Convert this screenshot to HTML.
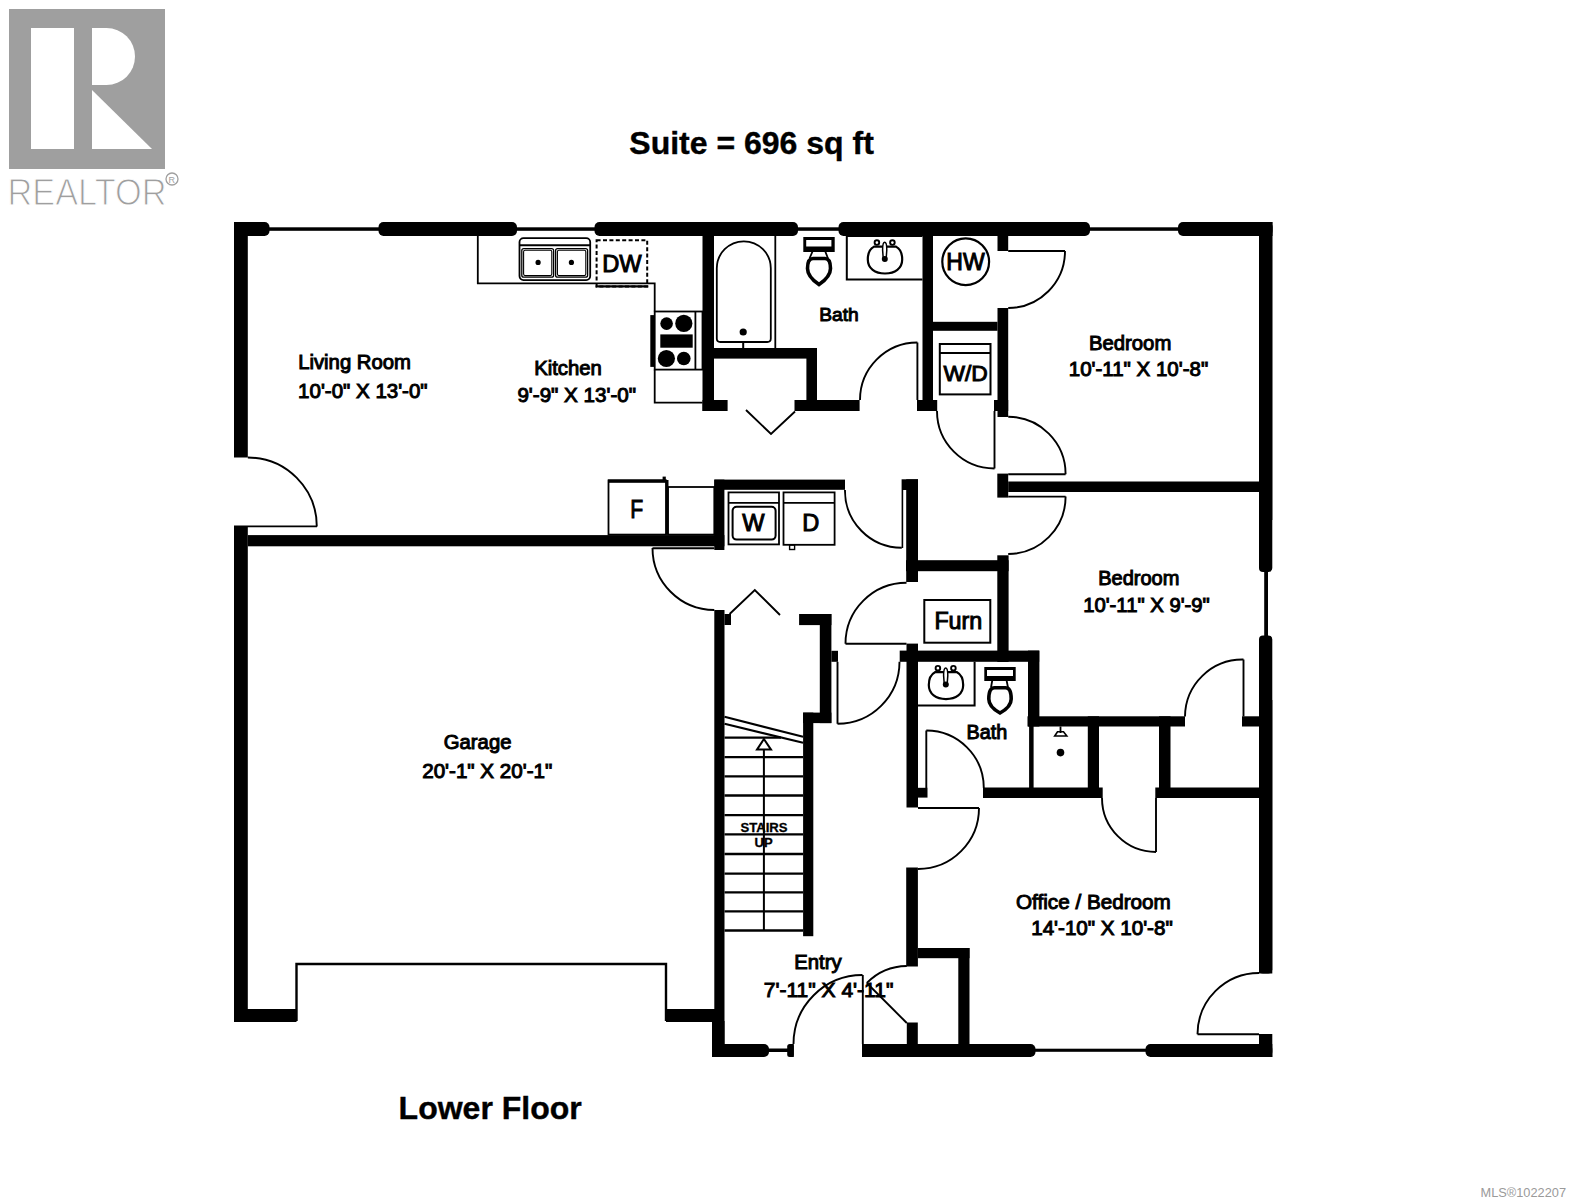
<!DOCTYPE html>
<html><head><meta charset="utf-8"><style>
html,body{margin:0;padding:0;background:#fff;width:1572px;height:1200px;overflow:hidden}
svg{display:block}
text{font-family:"Liberation Sans",sans-serif}
</style></head><body>
<svg width="1572" height="1200" viewBox="0 0 1572 1200">
<rect width="1572" height="1200" fill="#fff"/>
<rect x="9" y="9" width="156" height="160" fill="#9f9f9f"/>
<rect x="31" y="28" width="43" height="121" fill="#fff"/>
<path d="M92,28 H106.5 A28.5,28.5 0 0 1 106.5,85 H92 Z" fill="#fff"/>
<path d="M92,90 L152,149 H92 Z" fill="#fff"/>
<text x="7.5" y="204.5" font-size="36" fill="#9f9f9f" textLength="159" lengthAdjust="spacingAndGlyphs" stroke="#fff" stroke-width="1.1">REALTOR</text>
<circle cx="172" cy="179" r="6" fill="none" stroke="#9f9f9f" stroke-width="1.3"/>
<text x="168.6" y="182.6" font-size="9" fill="#9f9f9f">R</text>
<text x="629.3" y="154.2" font-size="32" font-weight="bold" fill="#000" stroke="#000" stroke-width="0.4" >Suite = 696 sq ft</text>
<text x="398.6" y="1118.9" font-size="32" font-weight="bold" fill="#000" stroke="#000" stroke-width="0.4" >Lower Floor</text>
<rect x="234" y="222" width="35.5" height="14" rx="5" fill="#000"/>
<rect x="234" y="222" width="16" height="14" fill="#000"/>
<rect x="378.5" y="222" width="138.5" height="14" rx="5" fill="#000"/>
<rect x="594.5" y="222" width="203.5" height="14" rx="5" fill="#000"/>
<rect x="838.5" y="222" width="251.5" height="14" rx="5" fill="#000"/>
<rect x="1178" y="222" width="94.5" height="14" rx="5" fill="#000"/>
<rect x="1250" y="222" width="22.5" height="14" fill="#000"/>
<rect x="265" y="227.3" width="117" height="3.5" fill="#000"/>
<rect x="513" y="227.3" width="85" height="3.5" fill="#000"/>
<rect x="794" y="227.3" width="48" height="3.5" fill="#000"/>
<rect x="1086" y="227.3" width="96" height="3.5" fill="#000"/>
<rect x="234" y="222" width="13.8" height="235.5" fill="#000"/>
<rect x="234" y="526" width="13.8" height="496" fill="#000"/>
<rect x="234" y="1009" width="62.5" height="13" fill="#000"/>
<rect x="666" y="1009" width="58" height="13" fill="#000"/>
<path d="M296.5,1021 V964 H666 V1021" stroke="#000" stroke-width="2.4" fill="none" />
<rect x="247.8" y="535.1" width="476.6" height="11.2" fill="#000"/>
<rect x="714.3" y="610" width="10.2" height="447" fill="#000"/>
<rect x="724.5" y="614" width="6.5" height="11" fill="#000"/>
<rect x="712" y="1021" width="12.5" height="36" fill="#000"/>
<rect x="712" y="1044" width="57" height="13" rx="5" fill="#000"/>
<rect x="712" y="1044" width="28" height="13" fill="#000"/>
<rect x="765" y="1048.5" width="25" height="3.5" fill="#000"/>
<rect x="787.2" y="1044" width="6.6" height="13" rx="2.5" fill="#000"/>
<rect x="791" y="1044" width="2.8" height="13" fill="#000"/>
<rect x="862" y="1044" width="173.5" height="13" rx="5" fill="#000"/>
<rect x="862" y="1044" width="38" height="13" fill="#000"/>
<rect x="1031" y="1048.7" width="119" height="3.1" fill="#000"/>
<rect x="1145.5" y="1044" width="126.8" height="13" rx="5" fill="#000"/>
<rect x="1200" y="1044" width="72.3" height="13" fill="#000"/>
<rect x="1259" y="222" width="13.3" height="350" rx="4" fill="#000"/>
<rect x="1259" y="222" width="13.3" height="298" fill="#000"/>
<rect x="1264.2" y="568" width="3.8" height="72" fill="#000"/>
<rect x="1259" y="635.5" width="13.3" height="338.0" rx="4" fill="#000"/>
<rect x="1259" y="700" width="13.3" height="273.5" fill="#000"/>
<rect x="1259" y="1034" width="13.3" height="23" fill="#000"/>
<rect x="702.5" y="236" width="11.5" height="175" fill="#000"/>
<rect x="702.5" y="400" width="25.1" height="11" fill="#000"/>
<rect x="714" y="348" width="103" height="10.6" fill="#000"/>
<rect x="806.4" y="348" width="10.6" height="63" fill="#000"/>
<rect x="794.5" y="400" width="65.1" height="11" fill="#000"/>
<rect x="922.5" y="236" width="10.5" height="175" fill="#000"/>
<rect x="917" y="400" width="20.2" height="11" fill="#000"/>
<rect x="997.5" y="236" width="10.7" height="15" fill="#000"/>
<rect x="997.5" y="308" width="10.7" height="109" fill="#000"/>
<rect x="933" y="321.8" width="64.5" height="9.0" fill="#000"/>
<rect x="994" y="400" width="14.2" height="11" fill="#000"/>
<rect x="997.3" y="473.6" width="10.9" height="24.0" fill="#000"/>
<rect x="1008.2" y="481.5" width="251.8" height="10.5" fill="#000"/>
<rect x="714.3" y="479.6" width="130.7" height="10.2" fill="#000"/>
<rect x="714.3" y="479.6" width="10.1" height="70.4" fill="#000"/>
<rect x="901.6" y="479.3" width="16.4" height="10.7" fill="#000"/>
<rect x="906.2" y="479.3" width="11.8" height="102.7" fill="#000"/>
<rect x="901.6" y="490" width="1.6" height="58" fill="#000"/>
<rect x="906" y="560.2" width="102.6" height="11.0" fill="#000"/>
<rect x="997.3" y="555.3" width="11.3" height="106.7" fill="#000"/>
<rect x="899.7" y="650.6" width="139.5" height="11.2" fill="#000"/>
<rect x="906.5" y="643.6" width="11.5" height="163.9" fill="#000"/>
<rect x="1028" y="650.6" width="11.4" height="75.9" fill="#000"/>
<rect x="1027.5" y="716.3" width="157.5" height="10.2" fill="#000"/>
<rect x="1242" y="716.3" width="18" height="10.2" fill="#000"/>
<rect x="1087.8" y="716.3" width="11.2" height="81.7" fill="#000"/>
<rect x="1159" y="716.3" width="11.5" height="81.7" fill="#000"/>
<rect x="983" y="787.5" width="119.7" height="10.5" fill="#000"/>
<rect x="1155.3" y="787.5" width="104.7" height="10.5" fill="#000"/>
<rect x="918" y="787.8" width="9.5" height="9.8" fill="#000"/>
<rect x="1029.1" y="726" width="4.5" height="62" fill="#000"/>
<rect x="906.2" y="867.5" width="11.7" height="99.0" fill="#000"/>
<rect x="917.9" y="948" width="51.6" height="10.2" fill="#000"/>
<rect x="958.3" y="948" width="11.2" height="102" fill="#000"/>
<rect x="906.8" y="1022.5" width="11.0" height="27.5" fill="#000"/>
<rect x="799.1" y="614" width="32.3" height="11.1" fill="#000"/>
<rect x="819.8" y="614" width="11.6" height="109.1" fill="#000"/>
<rect x="803.1" y="712.6" width="28.3" height="10.5" fill="#000"/>
<rect x="803.1" y="712.6" width="10.2" height="223.6" fill="#000"/>
<rect x="831.4" y="650.8" width="6.6" height="11.0" fill="#000"/>
<path d="M247.8,457.5 A69,69 0 0 1 316.8,526.4" stroke="#000" stroke-width="1.9" fill="none" />
<line x1="234" y1="526.4" x2="317" y2="526.4" stroke="#000" stroke-width="1.9"/>
<path d="M917.4,342.5 A57.5,57.5 0 0 0 860,400" stroke="#000" stroke-width="1.9" fill="none" />
<line x1="917.4" y1="342.5" x2="917.4" y2="400" stroke="#000" stroke-width="1.9"/>
<line x1="1008.2" y1="251" x2="1065" y2="251" stroke="#000" stroke-width="1.9"/>
<path d="M1065,251 A57,57 0 0 1 1008.2,308" stroke="#000" stroke-width="1.9" fill="none" />
<path d="M937,411 A57.5,57.5 0 0 0 994.5,468.5" stroke="#000" stroke-width="1.9" fill="none" />
<line x1="994.5" y1="411" x2="994.5" y2="468.5" stroke="#000" stroke-width="1.9"/>
<path d="M1008.2,416.8 A57.4,57.4 0 0 1 1065.6,474.2" stroke="#000" stroke-width="1.9" fill="none" />
<line x1="1008.2" y1="474.2" x2="1065.6" y2="474.2" stroke="#000" stroke-width="1.9"/>
<line x1="1008.2" y1="496.6" x2="1065.6" y2="496.6" stroke="#000" stroke-width="1.9"/>
<path d="M1065.6,496.6 A57.4,57.4 0 0 1 1008.2,554" stroke="#000" stroke-width="1.9" fill="none" />
<path d="M845,490 A57,57 0 0 0 901.8,547.8" stroke="#000" stroke-width="1.9" fill="none" />
<path d="M652.5,548 A62,62 0 0 0 714.3,610" stroke="#000" stroke-width="1.9" fill="none" />
<line x1="652.5" y1="548.3" x2="714.3" y2="548.3" stroke="#000" stroke-width="1.9"/>
<line x1="845.5" y1="643.8" x2="906.5" y2="643.8" stroke="#000" stroke-width="1.9"/>
<path d="M845.5,643.8 A61,61 0 0 1 906.5,582.8" stroke="#000" stroke-width="1.9" fill="none" />
<line x1="837.5" y1="661.8" x2="837.5" y2="723.8" stroke="#000" stroke-width="1.9"/>
<path d="M837.5,723.8 A62,62 0 0 0 899.5,661.8" stroke="#000" stroke-width="1.9" fill="none" />
<line x1="926.3" y1="730.5" x2="926.3" y2="788" stroke="#000" stroke-width="1.9"/>
<path d="M926.3,730.5 A57.5,57.5 0 0 1 983.8,788" stroke="#000" stroke-width="1.9" fill="none" />
<line x1="918" y1="808" x2="979" y2="808" stroke="#000" stroke-width="1.9"/>
<path d="M979,808 A61,61 0 0 1 918,869" stroke="#000" stroke-width="1.9" fill="none" />
<path d="M1102,798 A54,54 0 0 0 1156,852" stroke="#000" stroke-width="1.9" fill="none" />
<line x1="1156" y1="798" x2="1156" y2="852" stroke="#000" stroke-width="1.9"/>
<path d="M1185,716.5 A57.5,57.5 0 0 1 1243.5,659.5" stroke="#000" stroke-width="1.9" fill="none" />
<line x1="1243.5" y1="659.5" x2="1243.5" y2="716.5" stroke="#000" stroke-width="1.9"/>
<line x1="1197.5" y1="1034.3" x2="1259" y2="1034.3" stroke="#000" stroke-width="1.9"/>
<path d="M1197.5,1034.3 A61.5,61.5 0 0 1 1259,973" stroke="#000" stroke-width="1.9" fill="none" />
<path d="M793.5,1044 A69,69 0 0 1 862.5,975" stroke="#000" stroke-width="1.9" fill="none" />
<line x1="862.8" y1="975" x2="862.8" y2="1044" stroke="#000" stroke-width="1.9"/>
<line x1="906.8" y1="1023" x2="866.8" y2="983" stroke="#000" stroke-width="1.9"/>
<path d="M866.8,983 A57,57 0 0 1 906.8,966" stroke="#000" stroke-width="1.9" fill="none" />
<path d="M746,410 L771,434 L795,411.5" stroke="#000" stroke-width="1.9" fill="none" />
<path d="M729.6,614 L754.8,590 L780,615" stroke="#000" stroke-width="1.9" fill="none" />
<path d="M477.8,236 V283.4 H654.7 V311.5" stroke="#000" stroke-width="1.8" fill="none" />
<path d="M654.7,369.6 V402.6 H702.5" stroke="#000" stroke-width="1.8" fill="none" />
<rect x="519.5" y="238.1" width="70.7" height="42.0" rx="4" fill="none" stroke="#000" stroke-width="1.8" />
<line x1="520" y1="245.3" x2="590" y2="245.3" stroke="#000" stroke-width="2"/>
<rect x="521.8" y="248.6" width="31.8" height="28.6" rx="2" fill="none" stroke="#000" stroke-width="1.3" />
<rect x="523.6" y="250.2" width="28.2" height="25.4" rx="1.5" fill="none" stroke="#000" stroke-width="1.1" />
<rect x="555.6" y="248.6" width="32.0" height="28.6" rx="2" fill="none" stroke="#000" stroke-width="1.3" />
<rect x="557.4" y="250.2" width="28.4" height="25.4" rx="1.5" fill="none" stroke="#000" stroke-width="1.1" />
<circle cx="538.1" cy="262.4" r="2.6" fill="#000"/>
<circle cx="571.4" cy="262.4" r="2.6" fill="#000"/>
<rect x="596.6" y="240.2" width="50.6" height="46.4" fill="none" stroke="#000" stroke-width="2" stroke-dasharray="4,2.4"/>
<line x1="595.6" y1="286.3" x2="648.2" y2="286.3" stroke="#000" stroke-width="2.2"/>
<text x="602.2" y="271.5" font-size="23.7" fill="#000" stroke="#000" stroke-width="1.0" >DW</text>
<rect x="654.7" y="311.5" width="47.8" height="58.1" fill="none" stroke="#000" stroke-width="1.8" />
<line x1="695.4" y1="311.5" x2="695.4" y2="369.6" stroke="#000" stroke-width="1.8"/>
<rect x="650.3" y="315.1" width="4.4" height="51.8" fill="#000"/>
<circle cx="666.6" cy="323.6" r="6.3" fill="#000"/>
<circle cx="683.8" cy="323.4" r="8.6" fill="#000"/>
<rect x="660.3" y="334.4" width="32.4" height="13.3" fill="#000"/>
<circle cx="666.4" cy="358.5" r="8.6" fill="#000"/>
<circle cx="683.8" cy="358.5" r="6.8" fill="#000"/>
<rect x="608.5" y="480.4" width="57.5" height="54.2" fill="none" stroke="#000" stroke-width="1.8" />
<rect x="608" y="479.5" width="58" height="3.3" fill="#000"/>
<rect x="662.6" y="476.6" width="3.2" height="4.4" fill="#000"/>
<line x1="667.2" y1="480" x2="667.2" y2="534.6" stroke="#000" stroke-width="2.6"/>
<rect x="668" y="487" width="46.3" height="47.6" fill="none" stroke="#000" stroke-width="1.8" />
<text x="0" y="0" font-size="26.5" fill="#000" stroke="#000" stroke-width="1.0" transform="translate(630.2,518) scale(0.8,1)">F</text>
<line x1="775.3" y1="236" x2="775.3" y2="348" stroke="#000" stroke-width="1.8"/>
<path d="M716.8,338.5 V268.3 A27,27 0 0 1 770.8,268.3 V338.5 Q770.8,342 767.3,342 H720.3 Q716.8,342 716.8,338.5 Z" stroke="#000" stroke-width="1.8" fill="none" />
<circle cx="743.2" cy="332" r="3.6" fill="#000"/>
<line x1="743.2" y1="342" x2="743.2" y2="348" stroke="#000" stroke-width="2"/>
<path d="M803.3,237 H834.7 V252 H803.3 Z M806.2,240 V246.5 H831.4 V240 Z" fill="#000" fill-rule="evenodd"/>
<path d="M812.5,251.5 L809.5,258.5 M825.3,251.5 L828,258.5" stroke="#000" stroke-width="1.8" fill="none" />
<path d="M813,258.5 H825 C829.2,258.5 830.5,263 830.5,268.5 C830.5,275 825,280.5 819,284.6 C813,280.5 807.5,275 807.5,268.5 C807.5,263 808.8,258.5 813,258.5 Z" stroke="#000" stroke-width="3.6" fill="none" />
<path d="M922.5,236 H846.8 V279.6 H922.5" stroke="#000" stroke-width="2" fill="none" />
<g transform="translate(0,0)">
<path d="M874,246.6 H896 C900.5,249 902.2,254 902.2,259.5 C902.2,268.5 895,273.5 885,273.5 C875,273.5 867.8,268.5 867.8,259.5 C867.8,254 869.5,249 874,246.6 Z" stroke="#000" stroke-width="2.2" fill="none" />
<circle cx="876.9" cy="242.6" r="2.3" fill="#fff" stroke="#000" stroke-width="1.9"/>
<circle cx="892.4" cy="242.6" r="2.3" fill="#fff" stroke="#000" stroke-width="1.9"/>
<path d="M884.7,242.3 C886.3,242.3 886.8,245 886.8,250 L886.2,258 H883.2 L882.6,250 C882.6,245 883.1,242.3 884.7,242.3 Z" stroke="#000" stroke-width="1.5" fill="#fff" />
<circle cx="884.8" cy="259" r="3" fill="#000"/>
</g>
<circle cx="965.7" cy="261.8" r="23.4" fill="none" stroke="#000" stroke-width="2.2"/>
<text x="946.3" y="269.5" font-size="23" fill="#000" stroke="#000" stroke-width="1.0" >HW</text>
<rect x="939.8" y="344" width="50.7" height="50.4" fill="none" stroke="#000" stroke-width="2" />
<line x1="940" y1="353" x2="990.5" y2="353" stroke="#000" stroke-width="1.8"/>
<text x="943.5" y="380.6" font-size="22.8" fill="#000" stroke="#000" stroke-width="1.0" >W/D</text>
<rect x="728.5" y="492.4" width="50.5" height="52.0" fill="none" stroke="#000" stroke-width="1.8" />
<line x1="728.5" y1="502.9" x2="779" y2="502.9" stroke="#000" stroke-width="1.8"/>
<rect x="732.6" y="506.8" width="43.0" height="32.8" rx="4" fill="none" stroke="#000" stroke-width="2" />
<text x="742.3" y="531.2" font-size="23.6" fill="#000" stroke="#000" stroke-width="1.0" >W</text>
<rect x="783.5" y="492.4" width="51.1" height="52.4" fill="none" stroke="#000" stroke-width="1.8" />
<line x1="783.5" y1="502.9" x2="834.6" y2="502.9" stroke="#000" stroke-width="1.8"/>
<text x="802.2" y="531.2" font-size="23.6" fill="#000" stroke="#000" stroke-width="1.0" >D</text>
<rect x="789.6" y="545" width="5.0" height="4.5" fill="none" stroke="#000" stroke-width="1.4" />
<rect x="924.3" y="600" width="66.0" height="42.7" fill="none" stroke="#000" stroke-width="2" />
<text x="934.4" y="629.4" font-size="23.3" fill="#000" stroke="#000" stroke-width="1.0" >Furn</text>
<path d="M918,705.6 H974.6 V661.8" stroke="#000" stroke-width="2" fill="none" />
<g transform="translate(61,425.6)">
<path d="M874,246.6 H896 C900.5,249 902.2,254 902.2,259.5 C902.2,268.5 895,273.5 885,273.5 C875,273.5 867.8,268.5 867.8,259.5 C867.8,254 869.5,249 874,246.6 Z" stroke="#000" stroke-width="2.2" fill="none" />
<circle cx="876.9" cy="242.6" r="2.3" fill="#fff" stroke="#000" stroke-width="1.9"/>
<circle cx="892.4" cy="242.6" r="2.3" fill="#fff" stroke="#000" stroke-width="1.9"/>
<path d="M884.7,242.3 C886.3,242.3 886.8,245 886.8,250 L886.2,258 H883.2 L882.6,250 C882.6,245 883.1,242.3 884.7,242.3 Z" stroke="#000" stroke-width="1.5" fill="#fff" />
<circle cx="884.8" cy="259" r="3" fill="#000"/>
</g>
<path d="M984.3,667 H1015.7 V681 H984.3 Z M987,670 V676 H1013 V670 Z" fill="#000" fill-rule="evenodd"/>
<path d="M992.5,679 L991,687.5 M1006.3,679 L1008,687.5" stroke="#000" stroke-width="1.8" fill="none" />
<path d="M994.5,687.8 H1005.5 C1010,687.8 1011.2,692 1011.2,699 C1011.2,705 1005.5,710 1000,713 C994.5,710 988.8,705 988.8,699 C988.8,692 990,687.8 994.5,687.8 Z" stroke="#000" stroke-width="3.6" fill="none" />
<path d="M1060.5,726.5 V733" stroke="#000" stroke-width="1.8" fill="none" />
<path d="M1054.7,736 L1057.5,731.8 H1063.5 L1066.8,736 Z" fill="none" stroke="#000" stroke-width="1.6"/>
<circle cx="1060.5" cy="752.6" r="3.8" fill="#000"/>
<line x1="724.5" y1="716.8" x2="803.1" y2="736.8" stroke="#000" stroke-width="2.2"/>
<line x1="724.5" y1="723.8" x2="803.1" y2="742.8" stroke="#000" stroke-width="2.2"/>
<line x1="724.5" y1="737.6" x2="781" y2="737.6" stroke="#000" stroke-width="2.3"/>
<line x1="724.5" y1="757.2" x2="803.1" y2="757.2" stroke="#000" stroke-width="2.3"/>
<line x1="724.5" y1="776.3" x2="803.1" y2="776.3" stroke="#000" stroke-width="2.3"/>
<line x1="724.5" y1="795.5" x2="803.1" y2="795.5" stroke="#000" stroke-width="2.3"/>
<line x1="724.5" y1="815.2" x2="803.1" y2="815.2" stroke="#000" stroke-width="2.3"/>
<line x1="724.5" y1="834.4" x2="803.1" y2="834.4" stroke="#000" stroke-width="2.3"/>
<line x1="724.5" y1="854" x2="803.1" y2="854" stroke="#000" stroke-width="2.3"/>
<line x1="724.5" y1="873.6" x2="803.1" y2="873.6" stroke="#000" stroke-width="2.3"/>
<line x1="724.5" y1="892.3" x2="803.1" y2="892.3" stroke="#000" stroke-width="2.3"/>
<line x1="724.5" y1="911.4" x2="803.1" y2="911.4" stroke="#000" stroke-width="2.3"/>
<line x1="724.5" y1="930.5" x2="803.1" y2="930.5" stroke="#000" stroke-width="2.3"/>
<line x1="763.9" y1="741" x2="763.9" y2="930.5" stroke="#000" stroke-width="2"/>
<path d="M763.9,739 L757,749.6 H771 Z" fill="#fff" stroke="#000" stroke-width="2"/>
<text x="740.5" y="831.5" font-size="13.1" font-weight="bold" fill="#000" stroke="#000" stroke-width="0.3" >STAIRS</text>
<text x="754.6" y="847.3" font-size="13" font-weight="bold" fill="#000" stroke="#000" stroke-width="0.3" >UP</text>
<text x="298.2" y="368.9" font-size="20.3" fill="#000" stroke="#000" stroke-width="1.0" >Living Room</text>
<text x="298.1" y="397.5" font-size="20.5" fill="#000" stroke="#000" stroke-width="1.0" >10'-0&quot; X 13'-0&quot;</text>
<text x="534.2" y="375.1" font-size="20.3" fill="#000" stroke="#000" stroke-width="1.0" >Kitchen</text>
<text x="517.4" y="401.7" font-size="20.6" fill="#000" stroke="#000" stroke-width="1.0" >9'-9&quot; X 13'-0&quot;</text>
<text x="819.2" y="321.4" font-size="19.2" fill="#000" stroke="#000" stroke-width="1.0" >Bath</text>
<text x="1089" y="349.5" font-size="20.3" fill="#000" stroke="#000" stroke-width="1.0" >Bedroom</text>
<text x="1068.8" y="376.3" font-size="20.5" fill="#000" stroke="#000" stroke-width="1.0" >10'-11&quot; X 10'-8&quot;</text>
<text x="1098.2" y="585.2" font-size="20" fill="#000" stroke="#000" stroke-width="1.0" >Bedroom</text>
<text x="1083.2" y="611.5" font-size="20.3" fill="#000" stroke="#000" stroke-width="1.0" >10'-11&quot; X 9'-9&quot;</text>
<text x="966.6" y="739.4" font-size="19.8" fill="#000" stroke="#000" stroke-width="1.0" >Bath</text>
<text x="443.8" y="748.6" font-size="20.3" fill="#000" stroke="#000" stroke-width="1.0" >Garage</text>
<text x="422.2" y="777.9" font-size="20.6" fill="#000" stroke="#000" stroke-width="1.0" >20'-1&quot; X 20'-1&quot;</text>
<text x="794.2" y="968.8" font-size="20.3" fill="#000" stroke="#000" stroke-width="1.0" >Entry</text>
<text x="763.8" y="997" font-size="21" fill="#000" stroke="#000" stroke-width="1.0" >7'-11&quot; X 4'-11&quot;</text>
<text x="1016" y="909" font-size="20.7" fill="#000" stroke="#000" stroke-width="1.0" >Office / Bedroom</text>
<text x="1031.2" y="935" font-size="20.6" fill="#000" stroke="#000" stroke-width="1.0" >14'-10&quot; X 10'-8&quot;</text>
<text x="1480.5" y="1196.5" font-size="13" fill="#9a9a9a" textLength="85.5" lengthAdjust="spacingAndGlyphs">MLS®1022207</text>
</svg></body></html>
